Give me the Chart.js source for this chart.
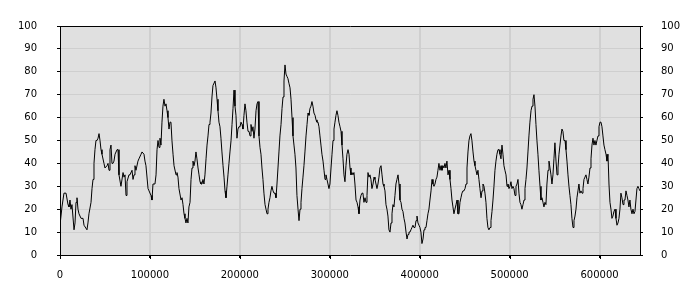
<!DOCTYPE html>
<html>
<head>
<meta charset="utf-8">
<script src="https://cdn.jsdelivr.net/npm/chart.js@4.4.1/dist/chart.umd.min.js"></script>
<style>
  html,body{margin:0;padding:0;background:#fff;}
  #wrap{width:700px;height:300px;}
</style>
</head>
<body>
<div id="wrap"><canvas id="myChart" width="700" height="300"></canvas></div>
<script>
// x positions (in thousands)
var xThousands=[
  0,2.2,4.4,6.7,8.9,10.0,11.1,12.2,13.3,15.6,
  16.7,17.8,18.9,20.0,21.1,23.4,25.6,26.7,30.0,31.1,
  32.2,34.5,35.6,36.7,37.8,38.9,40.0,41.1,42.3,43.4,
  44.5,45.6,46.7,48.9,50.0,52.3,53.4,54.5,55.6,56.7,
  57.8,58.9,60.0,61.2,63.4,64.5,65.6,67.8,70.1,71.2,
  72.3,73.4,74.5,76.7,77.8,80.1,81.2,82.3,83.4,84.5,
  86.7,87.8,90.1,91.2,93.4,94.5,95.6,97.9,99.0,101.2,
  102.3,103.4,105.6,106.8,107.9,109.0,110.1,111.2,112.3,113.4,
  114.5,115.6,116.8,117.9,119.0,120.1,121.2,122.3,123.4,124.5,
  125.7,126.8,129.0,130.1,131.2,132.3,134.6,135.7,136.8,137.9,
  139.0,140.1,141.2,142.3,143.4,144.6,145.7,146.8,147.9,149.0,
  150.1,151.2,152.3,153.5,154.6,155.7,156.8,157.9,159.0,160.1,
  161.2,162.4,163.5,164.6,165.7,166.8,167.9,169.0,170.1,
  172.4,173.5,174.6,175.7,176.8,177.9,179.0,180.1,181.3,182.4,
  183.5,184.6,185.7,186.8,187.9,189.0,190.2,191.3,192.4,193.5,
  194.6,195.7,196.8,197.9,199.0,200.2,201.3,202.4,203.5,204.6,
  205.7,206.8,207.9,209.1,210.2,211.3,212.4,213.5,214.6,215.7,
  216.8,218.0,219.1,220.2,221.3,222.4,223.5,224.6,225.7,226.8,
  228.0,229.1,230.2,231.3,232.4,233.5,234.6,235.7,236.9,238.0,
  239.1,240.2,241.3,242.4,243.5,244.6,245.8,246.9,248.0,249.1,
  250.2,251.3,252.4,253.5,254.6,255.8,256.9,258.0,259.1,260.2,
  261.3,262.4,263.5,264.7,265.8,266.9,268.0,269.1,270.2,271.3,
  272.4,273.6,274.7,275.8,276.9,278.0,279.1,280.2,281.3,282.4,
  283.6,284.7,285.8,286.9,288.0,289.1,290.2,291.3,292.5,293.6,
  294.7,295.8,296.9,298.0,299.1,300.2,301.4,302.5,303.6,304.7,
  305.8,306.9,308.0,309.1,310.2,311.4,312.5,313.6,314.7,315.8,
  316.9,318.0,319.1,320.3,321.4,322.5,323.6,324.7,325.8,326.9,
  328.0,329.2,330.3,331.4,332.5,333.6,334.7,335.8,336.9,338.0,
  339.2,340.3,341.4,342.5,343.6,344.7,345.8,346.9,348.1,349.2,
  350.3,351.4,352.5,353.6,354.7,355.8,357.0,358.1,359.2,360.3,
  361.4,362.5,363.6,364.7,365.8,367.0,368.1,369.2,370.3,371.4,
  372.5,373.6,374.7,375.9,377.0,378.1,379.2,380.3,381.4,382.5,
  383.6,384.8,385.9,387.0,388.1,389.2,390.3,391.4,392.5,393.6,
  394.8,395.9,397.0,398.1,399.2,400.3,401.4,402.5,403.7,404.8,
  405.9,407.0,408.1,409.2,410.3,411.4,412.6,413.7,414.8,415.9,
  417.0,418.1,419.2,420.3,421.4,422.6,423.7,424.8,425.9,427.0,
  428.1,429.2,430.3,431.5,432.6,433.7,434.8,435.9,437.0,438.1,
  439.2,440.4,441.5,442.6,443.7,444.8,445.9,447.0,448.1,449.2,
  450.4,451.5,452.6,453.7,454.8,455.9,457.0,458.1,459.3,460.4,
  461.5,462.6,463.7,464.8,465.9,467.0,468.2,469.3,470.4,471.5,
  472.6,473.7,474.8,475.9,477.0,478.2,479.3,480.4,481.5,482.6,
  483.7,484.8,485.9,487.1,488.2,489.3,490.4,491.5,492.6,493.7,
  494.8,496.0,497.1,498.2,499.3,500.4,501.5,502.6,503.7,504.8,
  506.0,507.1,508.2,509.3,510.4,511.5,512.6,513.7,514.9,516.0,
  517.1,518.2,519.3,520.4,521.5,522.6,523.8,524.9,526.0,527.1,
  528.2,529.3,530.4,531.5,532.6,533.8,534.9,536.0,537.1,538.2,
  539.3,540.4,541.5,542.7,543.8,544.9,546.0,547.1,548.2,549.3,
  550.4,551.6,552.7,553.8,554.9,556.0,557.1,558.2,559.3,560.4,
  561.6,562.7,563.8,564.9,566.0,567.1,568.2,569.3,570.5,571.6,
  572.7,573.8,574.9,576.0,577.1,578.2,579.4,580.5,581.6,582.7,
  583.8,584.9,586.0,587.1,588.2,589.4,590.5,591.6,592.7,593.8,
  594.9,596.0,597.1,598.3,599.4,600.5,601.6,602.7,603.8,604.9,
  606.0,607.2,608.3,609.4,610.5,611.6,612.7,613.8,614.9,616.0,
  617.2,618.3,619.4,620.5,621.6,622.7,623.8,624.9,626.1,627.2,
  628.3,629.4,630.5,631.6,632.7,633.8,634.9,636.1,637.2,638.3,
  639.4,640.5,641.6,642.7,643.8,644.9
];
// values 0-100, same order
var level=[
  13,21,27,27,22,21,24,20,22,11,
  14,23,25,20,18,16,16,13,11,14,
  18,23,29,33,40,46,50,50,51,53,
  50,46,44,40,38,39,40,37,46,48,
  40,40,41,44,46,46,35,30,36,34,
  35,26,32,35,35,37,33,35,39,37,
  41,42,44,45,44,41,39,29,28,26,
  24,31,31,35,46,50,47,51,48,58,
  65,68,65,66,63,60,55,58,58,50,
  44,39,35,36,34,29,24,25,22,18,
  16,14,16,14,21,23,33,38,41,39,
  41,45,42,38,35,32,31,31,33,31,
  35,42,48,52,57,58,62,69,74,
  76,73,68,63,58,56,51,45,39,34,
  28,25,30,35,40,45,50,57,64,72,
  65,61,51,55,56,56,58,57,55,61,
  66,63,58,54,54,52,57,54,56,51,
  55,63,66,67,52,47,44,38,33,27,
  22,20,18,20,23,25,28,30,28,27,
  27,25,31,38,45,52,57,64,69,76,
  83,79,78,77,75,73,68,60,52,48,
  44,38,26,20,15,20,23,29,34,39,
  45,52,57,62,61,64,65,67,65,62,
  61,59,58,58,56,52,48,44,41,37,
  33,35,33,31,29,31,38,44,50,55,
  58,61,63,61,58,56,54,48,42,35,
  32,39,44,46,44,38,35,36,35,36,
  31,24,23,21,18,24,26,27,27,23,
  25,23,26,36,34,35,33,29,31,34,
  33,31,29,31,34,38,39,35,31,30,
  28,22,20,17,11,10,14,18,22,21,
  26,31,33,35,31,24,23,20,19,16,
  14,10,7,9,10,10,11,12,13,12,
  12,15,17,14,13,12,10,5,7,11,
  12,12,15,18,20,24,28,33,31,30,
  31,33,34,37,40,37,39,37,39,38,
  40,38,41,35,37,33,29,24,21,18,
  20,22,24,18,18,23,25,27,28,28,
  29,31,38,45,50,52,53,50,45,41,
  39,37,35,37,33,29,25,28,31,30,
  27,23,16,12,11,12,15,19,24,30,
  37,41,44,46,46,44,42,48,44,39,
  37,35,30,31,29,30,32,29,30,29,
  26,30,31,33,27,23,22,20,22,24,
  29,33,38,45,52,58,63,65,68,70,
  65,57,50,44,37,30,24,25,23,21,
  23,22,31,37,41,38,35,31,35,42,
  49,41,35,38,44,48,52,55,54,50,
  50,46,41,35,30,26,22,16,12,15,
  17,20,25,28,31,27,28,27,29,33,
  34,35,33,31,34,38,42,48,51,48,
  50,48,50,52,56,58,58,56,52,48,
  46,44,41,44,31,23,20,16,17,19,
  20,16,13,14,16,20,27,25,22,24,
  24,28,26,24,21,24,20,18,20,18,
  19,24,29,30,29,28
];
var xTicks=[0,100000,200000,300000,400000,500000,600000];
var xMax=645000;
var yTicks=[0,10,20,30,40,50,60,70,80,90,100];

var points=xThousands.map(function(k,i){ return {x:k*1000,y:level[i]}; });
var gridColor='#cfcfcf';

// gray plot area, plus the vertical grid lines / x tick marks taken from the x scale
var plotBox={
  id:'plotBox',
  beforeDraw:function(chart){
    var a=chart.chartArea, c=chart.ctx;
    c.save();
    c.fillStyle='#e0e0e0';
    c.fillRect(a.left,a.top,a.right-a.left,a.bottom-a.top);
    c.restore();
  },
  beforeDatasetsDraw:function(chart){
    var a=chart.chartArea, c=chart.ctx, sx=chart.scales.x;
    c.save();
    c.lineWidth=1;
    xTicks.forEach(function(v){
      var px=Math.round(sx.getPixelForValue(v))+0.5;
      if(v>0){
        c.strokeStyle=gridColor;
        c.beginPath(); c.moveTo(px,a.top+1); c.lineTo(px,a.bottom); c.stroke();
      }
      c.strokeStyle='#000';
      c.beginPath(); c.moveTo(px,a.bottom); c.lineTo(px,a.bottom+4); c.stroke();
    });
    c.restore();
  }
};

function fixedTicks(list){
  return function(s){ s.ticks=list.map(function(v){ return {value:v}; }); };
}

Chart.defaults.font.family='"DejaVu Sans", Verdana, sans-serif';
Chart.defaults.font.size=10;
Chart.defaults.color='#000';

var ctx=document.getElementById('myChart');
var myChart=new Chart(ctx,{
  type:'line',
  data:{
    datasets:[{
      data:points,
      borderColor:'#000',
      borderWidth:1,
      pointRadius:0,
      tension:0,
      fill:false,
      xAxisID:'x',
      yAxisID:'y'
    }]
  },
  options:{
    responsive:false,
    animation:false,
    layout:{padding:0},
    plugins:{legend:{display:false},tooltip:{enabled:false}},
    scales:{
      x:{
        type:'linear',
        position:'bottom',
        min:0,
        max:xMax,
        afterBuildTicks:fixedTicks(xTicks),
        afterFit:function(s){ s.height=45; },
        ticks:{padding:11,maxRotation:0,autoSkip:false,
          callback:function(v){ return String(v); }},
        grid:{display:true,drawOnChartArea:true,color:gridColor,lineWidth:1,tickColor:'#000',tickLength:3},
        border:{color:'#000'}
      },
      x2:{
        type:'linear',
        position:'top',
        min:0,
        max:xMax,
        afterBuildTicks:fixedTicks(xTicks),
        afterFit:function(s){ s.height=10; },
        ticks:{display:false},
        grid:{display:false},
        border:{color:'#000'}
      },
      y:{
        position:'left',
        min:0,
        max:100,
        afterBuildTicks:fixedTicks(yTicks),
        afterFit:function(s){ s.width=60; },
        ticks:{padding:20},
        grid:{display:true,drawOnChartArea:true,color:gridColor,lineWidth:1,tickColor:'#000',tickLength:3},
        border:{color:'#000'}
      },
      y2:{
        position:'right',
        min:0,
        max:100,
        afterBuildTicks:fixedTicks(yTicks),
        afterFit:function(s){ s.width=60; },
        ticks:{padding:18},
        grid:{display:true,drawOnChartArea:false,color:gridColor,lineWidth:1,tickColor:'#000',tickLength:3},
        border:{color:'#000'}
      }
    }
  },
  plugins:[plotBox]
});
</script>
</body>
</html>
